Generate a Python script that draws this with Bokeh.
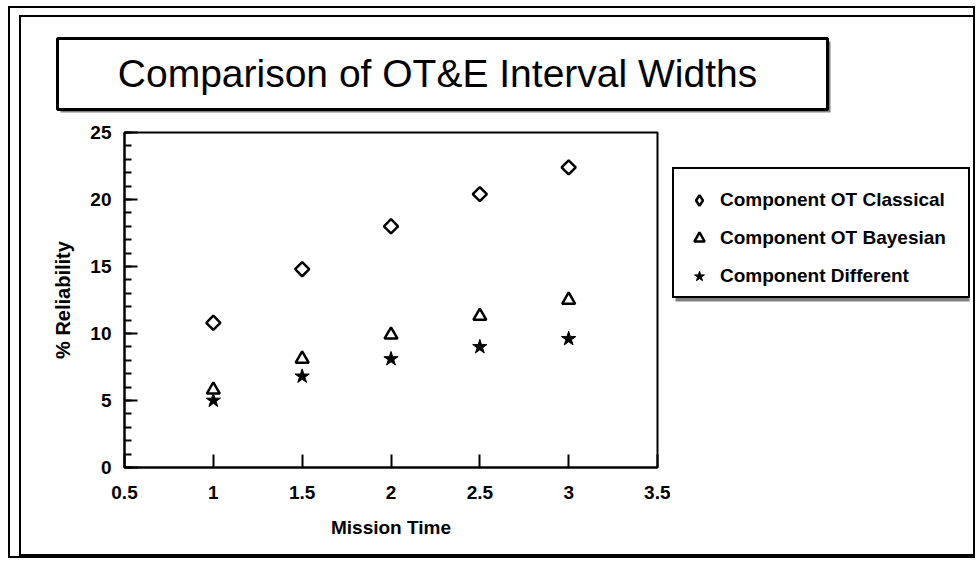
from bokeh.plotting import figure
from bokeh.layouts import column, row
from bokeh.models import (Range1d, SingleIntervalTicker, Legend, LegendItem,
                          CustomJSTickFormatter, BoxAnnotation, Label)
from bokeh.embed import file_html
from bokeh.resources import INLINE
import math

# ---- data ----
mission_time = [1.0, 1.5, 2.0, 2.5, 3.0]
classical = [10.8, 14.8, 18.0, 20.4, 22.4]
bayesian = [5.8, 8.1, 9.9, 11.3, 12.5]
different = [5.0, 6.8, 8.1, 9.0, 9.6]
series_names = ["Component OT Classical", "Component OT Bayesian", "Component Different"]
title_text = "Comparison of OT&E Interval Widths"
x_label = "Mission Time"
y_label = "% Reliability"

FONT = "Liberation Sans"
SHADOW = "#808080"

def screen_box(left, right, top, bottom, **kw):
    return BoxAnnotation(left=left, right=right, top=top, bottom=bottom,
                         left_units="screen", right_units="screen",
                         top_units="screen", bottom_units="screen", **kw)

# ---------------- title strip ----------------
TH = 120
pt = figure(width=977, height=TH, output_backend="svg", toolbar_location=None,
            x_axis_location=None, y_axis_location=None,
            x_range=Range1d(0, 1), y_range=Range1d(0, 1),
            min_border=0)
pt.grid.visible = False
pt.outline_line_color = None
pt.background_fill_alpha = 0
pt.border_fill_alpha = 0
pt.add_layout(screen_box(60, 830, TH - 41, TH - 112, fill_color=SHADOW, fill_alpha=1,
                         line_color=None))
pt.add_layout(screen_box(57, 827, TH - 38, TH - 109, fill_color="white", fill_alpha=1,
                         line_color="black", line_alpha=1, line_width=3))
pt.add_layout(Label(x=437, y=TH - 73, x_units="screen", y_units="screen",
                    text=title_text, text_font=FONT, text_font_size="39px",
                    text_align="center", text_baseline="middle", text_color="black"))

# ---------------- main chart ----------------
MW, MH = 670, 562 - TH
FRAME_BOTTOM = 467       # page y of the plot frame's bottom edge
p = figure(width=MW, height=MH, output_backend="svg", toolbar_location=None,
           x_range=Range1d(0.5, 3.5), y_range=Range1d(0, 25),
           min_border_left=124, min_border_right=MW - 657,
           min_border_top=132 - TH, min_border_bottom=562 - FRAME_BOTTOM)
p.grid.visible = False
p.outline_line_color = "black"
p.outline_line_width = 2
p.background_fill_color = "white"
p.border_fill_alpha = 0

for ax in (p.xaxis[0], p.yaxis[0]):
    ax.axis_line_width = 2
    ax.axis_line_color = "black"
    ax.major_tick_in = 13
    ax.major_tick_out = 0
    ax.major_tick_line_width = 2
    ax.minor_tick_in = 7
    ax.minor_tick_out = 0
    ax.minor_tick_line_width = 2
    ax.major_label_text_font = FONT
    ax.major_label_text_font_style = "bold"
    ax.major_label_text_font_size = "19px"
    ax.major_label_text_color = "black"
    ax.axis_label_text_font = FONT
    ax.axis_label_text_font_style = "bold"
    ax.axis_label_text_color = "black"

p.xaxis.ticker = SingleIntervalTicker(interval=0.5)
p.xaxis.minor_tick_line_color = None
p.xaxis.formatter = CustomJSTickFormatter(code="return String(tick)")
p.xaxis.major_label_standoff = 18
p.xaxis.axis_label = x_label
p.xaxis.axis_label_standoff = 15
p.xaxis.axis_label_text_font_size = "19px"

p.yaxis.ticker = SingleIntervalTicker(interval=5, num_minor_ticks=5)
p.yaxis.major_label_standoff = 13
p.yaxis.axis_label = y_label
p.yaxis.axis_label_standoff = 13
p.yaxis.axis_label_text_font_size = "20px"

p.scatter(mission_time, classical, marker="square", angle=math.pi / 4, size=10,
          fill_color="white", line_color="black", line_width=2.5)
p.scatter(mission_time, bayesian, marker="triangle", size=13,
          fill_color="white", line_color="black", line_width=2.5)
p.scatter(mission_time, different, marker="star", size=15,
          fill_color="black", line_color="black", line_width=1)

# ---------------- legend panel ----------------
# (its frame is aligned with the main chart's frame by the row layout)
LW = 977 - MW
pl = figure(width=LW, height=MH, output_backend="svg", toolbar_location=None,
            x_axis_location=None, y_axis_location=None,
            x_range=Range1d(-10, -9), y_range=Range1d(0, 25),
            min_border=0)
pl.grid.visible = False
pl.outline_line_color = None
pl.background_fill_alpha = 0
pl.border_fill_alpha = 0
# legend keys: same series through the same kind of scales (outside this panel's view)
k1 = pl.scatter(mission_time, classical, marker="diamond", size=10,
                fill_color="white", line_color="black", line_width=2.5)
k2 = pl.scatter(mission_time, bayesian, marker="triangle", size=13,
                fill_color="white", line_color="black", line_width=2.5)
k3 = pl.scatter(mission_time, different, marker="star", size=15,
                fill_color="black", line_color="black", line_width=1)

LX0 = 672 - MW                  # legend left, px from panel frame left
LB = FRAME_BOTTOM - 298         # legend bottom, px above frame bottom
LTOP = FRAME_BOTTOM - 171
pl.add_layout(screen_box(LX0 + 3, LX0 + 297, LTOP - 3, LB - 3,
                         fill_color=SHADOW, fill_alpha=1, line_color=None))
legend = Legend(items=[LegendItem(label=series_names[0], renderers=[k1]),
                       LegendItem(label=series_names[1], renderers=[k2]),
                       LegendItem(label=series_names[2], renderers=[k3])],
                location=(LX0, LB),
                title=" ", title_text_font_size="2px", title_standoff=9,
                padding=7, spacing=12, glyph_width=36, glyph_height=26,
                label_height=26, label_width=241, label_standoff=3, margin=0,
                label_text_font=FONT, label_text_font_style="bold",
                label_text_font_size="19px", label_text_color="black",
                border_line_color="black", border_line_width=2, border_line_alpha=1,
                background_fill_color="white", background_fill_alpha=1)
pl.add_layout(legend, "center")

layout = column(pt, row(p, pl), styles={
    "box-shadow": ("inset 3px 1px 0 5px white, inset 3px 1px 0 7px black, "
                   "inset 8.5px 4.5px 0 10.5px white, inset 8.5px 4.5px 0 12.5px black"),
})

open("out.html", "w").write(file_html(layout, INLINE))
